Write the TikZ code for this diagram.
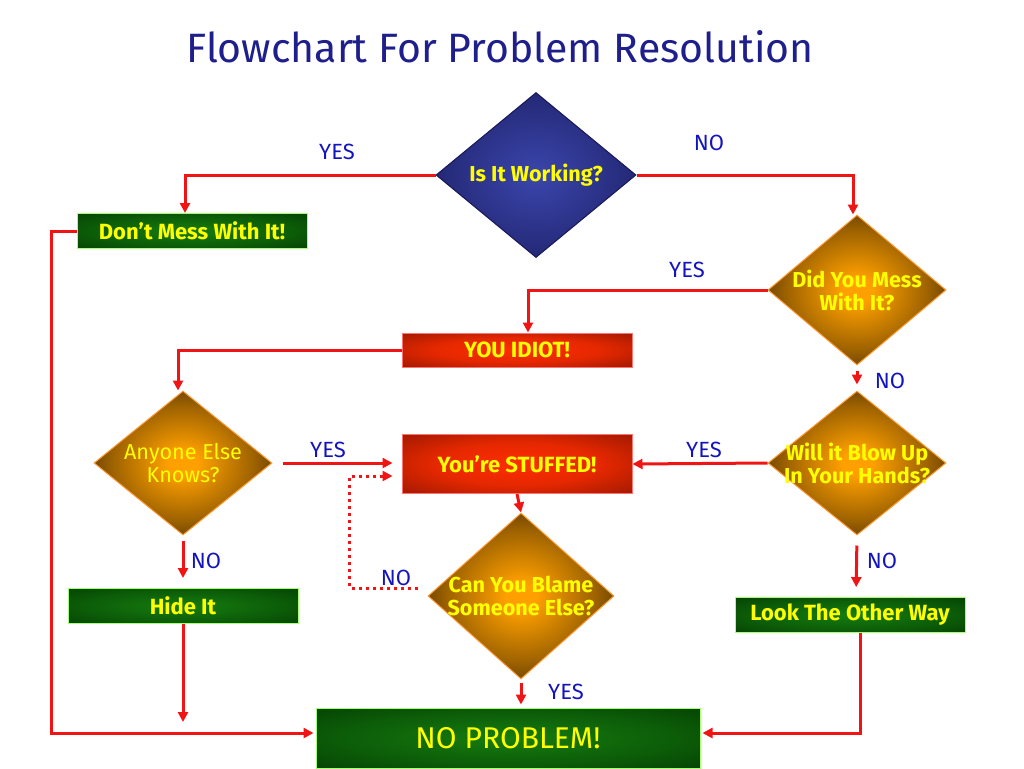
\documentclass[tikz,border=0pt]{standalone}
\usepackage{fontspec}
\setmainfont{Fira Sans}
\usetikzlibrary{arrows.meta, shapes.geometric}

\definecolor{diamin}{RGB}{255,160,0}
\definecolor{diamout}{RGB}{38,22,0}
\definecolor{navyin}{RGB}{58,70,172}
\definecolor{navyout}{RGB}{24,24,88}
\definecolor{redin}{RGB}{255,45,0}
\definecolor{redout}{RGB}{125,18,0}
\definecolor{greenin}{RGB}{22,125,15}
\definecolor{greenout}{RGB}{0,52,0}
\definecolor{arrred}{RGB}{240,20,20}
\definecolor{lblblue}{RGB}{20,20,190}
\definecolor{titleblue}{RGB}{30,30,140}
\definecolor{txtyellow}{RGB}{255,255,0}

\pgfdeclareradialshading{diamglow}{\pgfpoint{0bp}{0bp}}{color(0bp)=(diamin); color(4bp)=(diamin); color(20bp)=(diamout!45!diamin); color(36bp)=(diamout); color(50bp)=(diamout)}
\pgfdeclareradialshading{navyglow}{\pgfpoint{0bp}{0bp}}{color(0bp)=(navyin); color(25bp)=(navyout!65!navyin); color(40bp)=(navyout); color(50bp)=(navyout)}
\pgfdeclareradialshading{redglow}{\pgfpoint{0bp}{0bp}}{color(0bp)=(redin); color(18bp)=(redin!80!redout); color(45bp)=(redout); color(50bp)=(redout)}
\pgfdeclareradialshading{greenglow}{\pgfpoint{0bp}{0bp}}{color(0bp)=(greenin); color(22bp)=(greenin!55!greenout); color(45bp)=(greenout); color(50bp)=(greenout)}

\begin{document}
\begin{tikzpicture}[
    x=0.5pt, y=-0.5pt,
    dtext/.style={text=txtyellow, font=\fontsize{10.8}{11.5}\selectfont\bfseries, align=center},
    decide/.style={diamond, shade, shading=diamglow, draw=orange!80, line width=0.5pt, inner sep=0pt, minimum width=89pt, minimum height=72pt},
    okbox/.style={rectangle, shade, shading=greenglow, draw=green!50!lime!55, line width=0.5pt, minimum width=115pt, minimum height=17.5pt, text=txtyellow, font=\fontsize{11}{12}\selectfont\bfseries},
    badbox/.style={rectangle, shade, shading=redglow, draw=red!55, line width=0.5pt, minimum width=115pt, minimum height=17pt, text=txtyellow, font=\fontsize{11}{12}\selectfont\bfseries},
    lbl/.style={text=lblblue, font=\fontsize{11}{12}\selectfont},
    arr/.style={-{Triangle[length=5pt,width=5pt]}, draw=arrred, line width=1.5pt},
    dotarr/.style={arr, dotted}
  ]
    \useasboundingbox (0,0) rectangle (1024,768);

    \node[text=titleblue, font=\fontsize{20.5}{23}\selectfont] (title) at (500,47) {Flowchart For Problem Resolution};

    \node[decide, shading=navyglow, draw=navyout, minimum width=100pt, minimum height=82.5pt,
          label={[dtext]center:Is It Working?}] (working) at (536,175) {};
    \node[okbox] (dontmess) at (192,231) {Don’t Mess With It!};
    \node[decide, minimum height=75pt, label={[dtext]center:Did You Mess\\With It?}] (messed) at (857,290) {};
    \node[badbox] (idiot) at (517,350) {YOU IDIOT!};
    \node[decide, label={[dtext, font=\fontsize{10.8}{11.5}\selectfont]center:Anyone Else\\Knows?}] (anyone) at (183,463) {};
    \node[decide, label={[dtext]center:Will it Blow Up\\In Your Hands?}] (blow) at (857,463) {};
    \node[badbox, minimum height=29.5pt] (stuffed) at (517,464) {You’re STUFFED!};
    \node[decide, minimum width=93pt, minimum height=83pt, label={[dtext]center:Can You Blame\\Someone Else?}] (blame) at (521,596) {};
    \node[okbox] (hide) at (183,606) {Hide It};
    \node[okbox, minimum height=17pt] (otherway) at (850,615) {Look The Other Way};
    \node[okbox, minimum width=192pt, minimum height=30pt, font=\fontsize{15}{17}\selectfont] (noprob) at (508,738) {NO PROBLEM!};

    \node[lbl] (yes1) at (337,152) {YES};
    \node[lbl] (no1)  at (709,143) {NO};
    \node[lbl] (yes2) at (687,270) {YES};
    \node[lbl] (no2)  at (890,381) {NO};
    \node[lbl] (yes3) at (328,450) {YES};
    \node[lbl] (yes4) at (704,450) {YES};
    \node[lbl] (no3)  at (206,561) {NO};
    \node[lbl] (no4)  at (396,578) {NO};
    \node[lbl] (no5)  at (882,561) {NO};
    \node[lbl] (yes5) at (566,692) {YES};

    \draw[arr] (working.west) -| ([xshift=-3.5pt]dontmess.north);
    \draw[arr] (working.east) -| ([xshift=-2pt]messed.north);
    \draw[arr] (messed.west) -| ([xshift=5.5pt]idiot.north);
    \draw[arr] (idiot.west) -| ([xshift=-2.5pt]anyone.north);
    \draw[arr, shorten <=2.5pt, shorten >=3pt] (messed.south) -- (blow.north);
    \draw[arr] (blow.west) -- (stuffed.east);
    \draw[arr, shorten <=5pt, shorten >=4.5pt] (anyone.east) -- (anyone.east -| stuffed.west);
    \draw[dotarr, shorten <=5pt, shorten >=4.5pt] ([yshift=4pt]blame.west) -| ([xshift=-26pt,yshift=-6pt]stuffed.west) -- ([yshift=-6pt]stuffed.west);
    \draw[arr] (stuffed.south) -- (blame.north);
    \draw[arr, shorten <=1.5pt, shorten >=1.5pt] (blame.south) -- (blame.south |- noprob.north);
    \draw[arr, shorten <=2.5pt, shorten >=5pt] (anyone.south) -- (hide.north);
    \draw[arr, shorten >=5.5pt] (hide.south) -- ([yshift=2.5pt]hide.south |- noprob.west);
    \draw[arr, shorten <=5pt, shorten >=5pt] (blow.south) -- ([xshift=3pt]otherway.north);
    \draw[arr, shorten >=1pt] (dontmess.west) -- ++(-25,0) |- ([yshift=2.5pt]noprob.west);
    \draw[arr, shorten >=1pt] ([xshift=5pt]otherway.south) |- ([yshift=2.5pt]noprob.east);
  \end{tikzpicture}
\end{document}
